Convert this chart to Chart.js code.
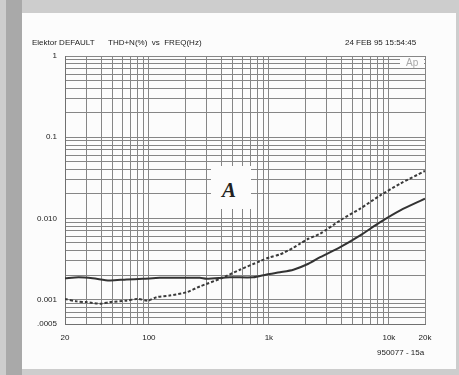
<!DOCTYPE html>
<html>
<head>
<meta charset="utf-8">
<script src="https://cdn.jsdelivr.net/npm/chart.js@4.4.0/dist/chart.umd.min.js"></script>
<style>
  html, body { margin: 0; padding: 0; }
  body { width: 459px; height: 375px; position: relative; overflow: hidden; background: #cdcdcd; font-family: "Liberation Sans", Arial, sans-serif; }
  .strip { position: absolute; left: 6px; top: 0; width: 16px; height: 375px; background: #a9a9a9; }
  .page { position: absolute; left: 22px; top: 13px; width: 434px; height: 356px; background: #fcfcfc; }
  #chart { position: absolute; left: 0; top: 0; }
  .lbl { position: absolute; font-size: 8px; line-height: 8px; color: #222; white-space: pre; }
  .box { position: absolute; background: #fcfcfc; }
  .big { position: absolute; font-family: "Liberation Serif", "DejaVu Serif", serif; font-weight: bold; font-style: italic; font-size: 21px; line-height: 21px; color: #222; }
</style>
</head>
<body>
<div class="strip"></div>
<div class="page"></div>
<canvas id="chart" width="459" height="375"></canvas>

<div class="lbl" style="left:32px; top:39px;">Elektor DEFAULT</div>
<div class="lbl" style="left:108px; top:39px;">THD+N(%)  vs  FREQ(Hz)</div>
<div class="lbl" style="left:345px; top:39px;">24 FEB 95 15:54:45</div>
<div class="lbl" style="left:377px; top:349px;">950077 - 15a</div>

<!-- white patches that hide the grid behind the labels -->
<div class="box" style="left:400px; top:57px; width:24px; height:11px;"></div>
<div class="lbl" style="left:406px; top:58px; font-size:10px; line-height:10px; color:#a8a8a8;">Ap</div>
<div class="box" style="left:211px; top:166px; width:40px; height:43px;"></div>
<div class="big" style="left:222px; top:180px;">A</div>

<script>
// frequency grid (Hz) and which lines get a label
const xTicks = [20, 30, 40, 50, 60, 70, 80, 90,
  100, 200, 300, 400, 500, 600, 700, 800, 900,
  1000, 2000, 3000, 4000, 5000, 6000, 7000, 8000, 9000,
  10000, 20000];
const xTickLabels = ['20', '', '', '', '', '', '', '',
  '100', '', '', '', '', '', '', '', '',
  '1k', '', '', '', '', '', '', '', '',
  '10k', '20k'];

// THD+N grid (%)
const yTicks = [0.0005, 0.0006, 0.0007, 0.0008, 0.0009,
  0.001, 0.002, 0.003, 0.004, 0.005, 0.006, 0.007, 0.008, 0.009,
  0.01, 0.02, 0.03, 0.04, 0.05, 0.06, 0.07, 0.08, 0.09,
  0.1, 0.2, 0.3, 0.4, 0.5, 0.6, 0.7, 0.8, 0.9, 1];
const yTickLabels = ['.0005', '', '', '', '',
  '0.001', '', '', '', '', '', '', '', '',
  '0.010', '', '', '', '', '', '', '', '',
  '0.1', '', '', '', '', '', '', '', '', '1'];

// solid curve
const freqSolid = [20, 26, 34, 47, 65, 89, 123, 170, 266, 303, 473, 741,
  960, 1240, 1600, 2135, 2675, 3930, 5770, 8480, 12450, 20000];
const thdSolid = [0.00183, 0.00188, 0.00183, 0.00172, 0.00177, 0.0018, 0.00185, 0.00185, 0.00185, 0.0018, 0.00188, 0.00188,
  0.00204, 0.00217, 0.00233, 0.00276, 0.00333, 0.00442, 0.00617, 0.009, 0.01256, 0.0175];

// dashed curve
const freqDashed = [20, 25, 30, 40, 47, 65, 81, 98, 116, 149, 206, 266,
  391, 574, 843, 1022, 1240, 1600, 1820, 2135, 2675, 3930, 5770, 8480, 12450, 20000];
const thdDashed = [0.00102, 0.00095, 0.00093, 0.00089, 0.00093, 0.00097, 0.00102, 0.00097, 0.00107, 0.00112, 0.00123, 0.00145,
  0.0018, 0.00233, 0.00297, 0.00333, 0.0036, 0.00435, 0.00488, 0.00561, 0.00648, 0.00945, 0.0132, 0.0192, 0.0268, 0.0384];

const tickFont = { family: '"Liberation Sans", Arial, sans-serif', size: 8 };

new Chart(document.getElementById('chart'), {
  type: 'scatter',
  data: {
    datasets: [
      {
        label: 'solid',
        data: freqSolid.map((f, i) => ({ x: f, y: thdSolid[i] })),
        showLine: true,
        borderColor: '#333333',
        borderWidth: 2,
        pointRadius: 0,
        tension: 0.25
      },
      {
        label: 'dashed',
        data: freqDashed.map((f, i) => ({ x: f, y: thdDashed[i] })),
        showLine: true,
        borderColor: '#3a3a3a',
        borderWidth: 2,
        borderDash: [3, 2],
        pointRadius: 0,
        tension: 0.25
      }
    ]
  },
  options: {
    responsive: false,
    animation: false,
    devicePixelRatio: 1,
    layout: { padding: { left: 0, top: 56, right: 34, bottom: 0 } },
    plugins: {
      legend: { display: false },
      tooltip: { enabled: false }
    },
    scales: {
      x: {
        type: 'logarithmic',
        min: 20,
        max: 20000,
        afterBuildTicks: scale => { scale.ticks = xTicks.map(v => ({ value: v })); },
        afterFit: scale => { scale.height = 51; },
        grid: { color: '#868686', lineWidth: 1, drawTicks: false },
        border: { color: '#707070' },
        ticks: {
          autoSkip: false,
          maxRotation: 0,
          padding: 9,
          color: '#222',
          font: tickFont,
          callback: (v, i) => xTickLabels[i]
        }
      },
      y: {
        type: 'logarithmic',
        min: 0.0005,
        max: 1,
        afterBuildTicks: scale => { scale.ticks = yTicks.map(v => ({ value: v })); },
        afterFit: scale => { scale.width = 65; },
        grid: { color: '#868686', lineWidth: 1, drawTicks: false },
        border: { color: '#707070' },
        ticks: {
          autoSkip: false,
          padding: 8,
          color: '#222',
          font: tickFont,
          callback: (v, i) => yTickLabels[i]
        }
      }
    }
  }
});
</script>
</body>
</html>
